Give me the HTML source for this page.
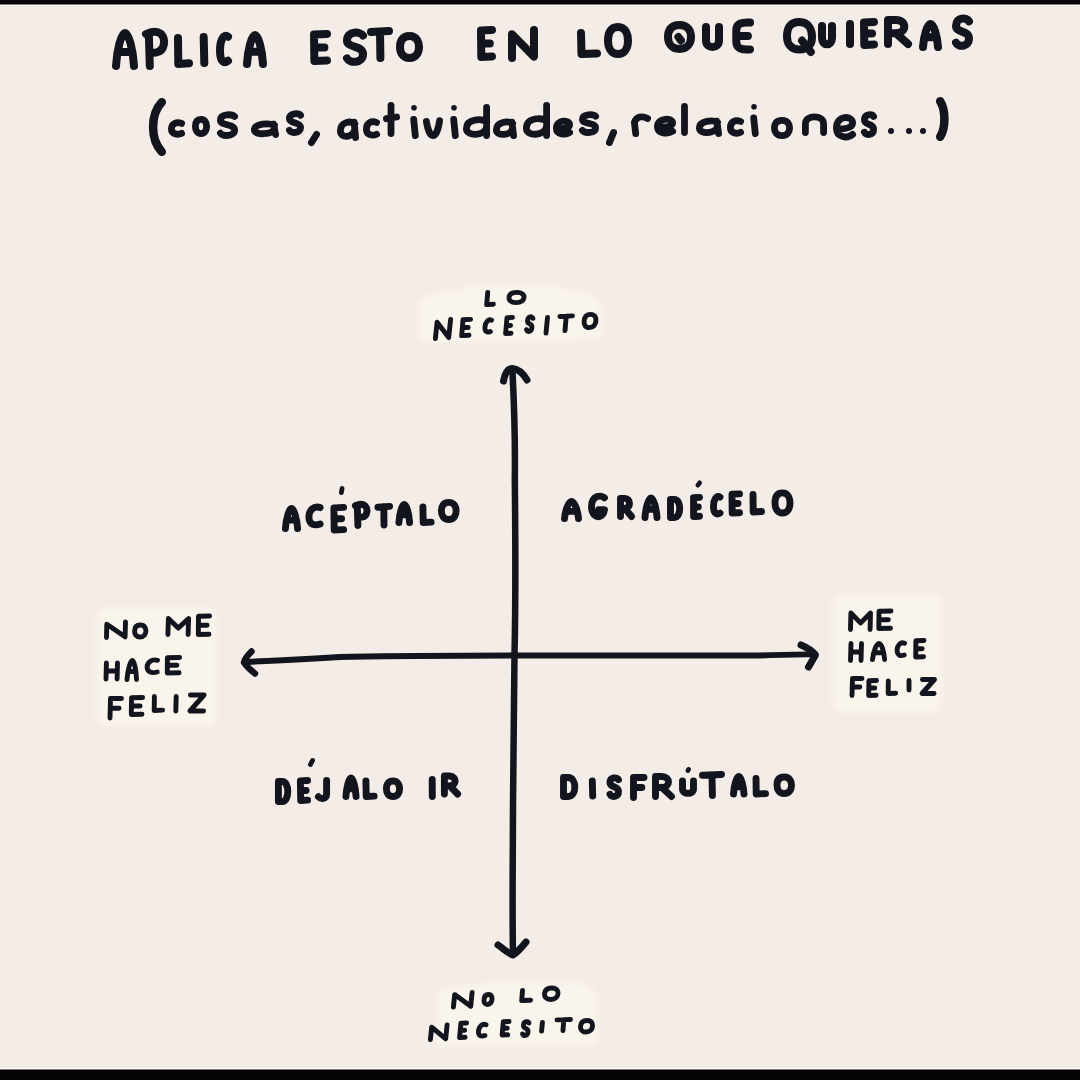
<!DOCTYPE html>
<html><head><meta charset="utf-8"><style>
html,body{margin:0;padding:0;background:#f4ece7;}
body{width:1080px;height:1080px;overflow:hidden;position:relative;font-family:"Liberation Sans",sans-serif;}
svg{position:absolute;left:0;top:0;}
</style></head><body>
<svg width="1080" height="1080" viewBox="0 0 1080 1080">
<rect x="0" y="0" width="1080" height="1080" fill="#f4ece7"/>

<filter id="blur" filterUnits="userSpaceOnUse" x="0" y="0" width="1080" height="1080"><feGaussianBlur stdDeviation="3.5"/></filter>
<g fill="#faf5ec" filter="url(#blur)" stroke="none">
<path d="M418,300 C440,290 480,284 520,285 C560,286 590,292 600,300 L602,338 C560,342 470,342 420,340 Z"/>
<rect x="97" y="608" width="119" height="118" rx="6"/>
<rect x="833" y="594" width="108" height="118" rx="6"/>
<path d="M437,990 C470,982 560,980 590,985 L598,1000 L598,1045 C560,1047 470,1047 437,1045 Z"/>
</g>

<g fill="none" stroke="#12151d" stroke-linecap="round" stroke-linejoin="round">

<path stroke-width="6.5" d="M512.5,372 C513.5,392 515.5,433 514.8,480 C515.5,540 515.7,600 514.5,655 C513.8,700 513,780 512.8,850 C512.5,900 512.5,930 513,953"/>
<path stroke-width="7" d="M503.5,381 C505,373 508,368.5 512.5,368.5 C518,369 523,373 527,380"/>
<path stroke-width="7" d="M498,945 C505,950 509,954 513,955 C518,952 522,947 526,942"/>
<path stroke-width="6" d="M245,662 C257,661 290,660.5 340,657 C420,655 600,655.5 760,655.5 C790,654.5 805,654 814,654.5"/>
<path stroke-width="6.5" d="M251.5,651.5 C248,655 244.5,659 244,662.5 C247,667 251,670.5 255,673.5"/>
<path stroke-width="7" d="M801,645 C807,647.5 812,650.5 815.5,655 L808.5,667"/>

<g stroke-width="8.0" >
<path d="M 116.0,66.0 C 116.9,49.5 121.4,33.0 125.0,33.0 C 128.6,33.0 133.1,49.5 134.0,66.0 M 117.8,52.1 L 132.2,52.1"/>
<path d="M 149.8,66.0 L 148.8,33.7 M 146.0,34.0 C 151.7,31.3 157.4,31.3 161.2,34.0 C 165.9,39.5 165.0,50.7 156.4,52.4 L 149.4,53.1"/>
<path d="M 178.0,38.0 L 178.3,64.0 L 189.0,63.2"/>
<path d="M 203.7,37.0 L 204.3,63.0"/>
<path d="M 228.0,36.7 C 223.6,33.3 220.0,40.6 220.0,50.4 C 220.0,61.6 224.0,63.8 228.0,60.8"/>
<path d="M 247.0,64.0 C 247.8,49.5 251.8,35.0 255.0,35.0 C 258.2,35.0 262.2,49.5 263.0,64.0 M 248.6,51.8 L 261.4,51.8"/>
<path d="M 327.0,34.0 L 314.0,34.5 L 314.4,61.0 L 327.0,60.5 M 314.3,47.5 L 324.4,47.5"/>
<path d="M 363.0,35.6 C 360.6,31.4 347.0,30.5 347.0,40.4 C 347.0,48.5 363.0,44.6 363.0,54.2 C 363.0,63.5 349.4,63.5 347.0,58.4"/>
<path d="M 371.0,32.1 L 389.0,31.0 M 380.0,31.5 L 380.4,58.0"/>
<path d="M 409.5,36.0 C 417.1,36.0 419.0,42.6 419.0,47.0 C 419.0,52.5 416.1,58.0 409.5,58.0 C 402.9,58.0 400.0,52.5 400.0,47.0 C 400.0,41.5 401.9,36.0 409.5,36.0 Z"/>
<path d="M 492.0,30.0 L 481.0,30.5 L 481.3,57.0 L 492.0,56.5 M 481.2,43.5 L 489.8,43.5"/>
<path d="M 512.0,58.0 L 512.0,34.2 L 534.0,56.6 L 534.0,30.0"/>
<path d="M 581.0,33.0 L 581.5,54.0 L 597.0,53.4"/>
<path d="M 618.0,27.0 C 626.0,27.0 628.0,35.1 628.0,40.5 C 628.0,47.2 625.0,54.0 618.0,54.0 C 611.0,54.0 608.0,47.2 608.0,40.5 C 608.0,33.8 610.0,27.0 618.0,27.0 Z"/>
<path d="M 679.5,25.0 C 688.7,25.0 691.0,32.2 691.0,37.0 C 691.0,43.0 687.5,49.0 679.5,49.0 C 671.5,49.0 668.0,43.0 668.0,37.0 C 668.0,31.0 670.3,25.0 679.5,25.0 Z M 678.4,37.0 L 680.9,40.4"/>
<path d="M 706.0,27.0 L 706.0,40.2 C 706.0,49.4 719.0,49.4 719.0,40.2 L 719.0,27.0"/>
<path d="M 750.0,22.6 C 741.6,22.0 736.3,23.4 736.3,30.4 L 736.3,41.6 C 736.3,48.6 741.6,50.0 750.0,49.4 M 736.7,36.0 L 747.9,36.0"/>
<path d="M 799.5,22.0 C 809.5,22.0 812.0,31.0 812.0,37.0 C 812.0,44.5 808.2,49.6 799.5,49.6 C 790.8,49.6 787.0,43.6 787.0,36.4 C 787.0,28.6 789.5,22.0 799.5,22.0 Z M 802.0,40.6 L 810.8,52.0"/>
<path d="M 822.0,26.0 L 822.0,38.0 C 822.0,46.4 832.0,46.4 832.0,38.0 L 832.0,26.0"/>
<path d="M 850.0,24.0 L 850.0,44.0"/>
<path d="M 874.0,22.0 L 864.0,22.5 L 864.3,45.0 L 874.0,44.5 M 864.2,33.5 L 872.0,33.5"/>
<path d="M 888.0,44.0 L 888.0,20.0 L 896.0,20.0 C 907.0,20.0 907.0,33.2 896.0,33.2 L 888.0,33.2 M 896.0,33.2 L 908.0,44.0"/>
<path d="M 923.0,47.0 C 923.8,35.5 927.5,24.0 930.5,24.0 C 933.5,24.0 937.2,35.5 938.0,47.0 M 924.5,37.3 L 936.5,37.3"/>
<path d="M 969.0,21.4 C 967.0,17.4 956.0,16.6 956.0,25.8 C 956.0,33.4 969.0,29.8 969.0,38.7 C 969.0,47.4 958.0,47.4 956.0,42.6"/>
</g>
<g stroke-width="6.8" >
<path stroke-width="8.5" d="M 161.8,102.2 C 150.2,114.6 150.2,139.4 161.8,151.8"/>
<path d="M 181.6,123.4 C 176.5,121.4 171.4,123.6 171.4,129.1 C 171.4,134.0 177.5,135.2 181.6,133.4"/>
<path d="M 201.0,119.4 C 205.5,119.4 206.6,123.7 206.6,126.5 C 206.6,130.1 204.9,133.6 201.0,133.6 C 197.1,133.6 195.4,130.1 195.4,126.5 C 195.4,123.0 196.5,119.4 201.0,119.4 Z"/>
<path d="M 234.6,116.5 C 232.5,114.0 220.4,113.3 220.4,120.3 C 220.4,126.1 234.6,123.3 234.6,130.1 C 234.6,136.7 222.5,136.7 220.4,133.1"/>
<path d="M 274.5,125.1 C 269.2,122.8 254.4,123.4 254.4,130.1 C 254.4,135.2 272.4,135.2 274.5,128.4 M 273.5,124.0 L 275.6,134.6"/>
<path d="M 300.6,115.3 C 298.9,113.0 289.4,112.4 289.4,118.8 C 289.4,124.0 300.6,121.5 300.6,127.6 C 300.6,133.6 291.1,133.6 289.4,130.3"/>
<path d="M 316.6,134.4 L 311.4,142.6"/>
<path d="M 354.8,123.8 C 351.0,120.6 340.4,121.4 340.4,131.1 C 340.4,138.4 353.3,138.4 354.8,128.7 M 354.1,122.2 L 355.6,137.6"/>
<path d="M 376.6,122.5 C 371.5,120.3 366.4,122.8 366.4,129.2 C 366.4,134.9 372.5,136.3 376.6,134.2"/>
<path d="M391.0,105.4 L391.0,133.6 M386.4,118.7 L396.6,117.0"/>
<path d="M413.7,119.3 L415.3,135.6"/><circle cx="414.0" cy="107.8" r="2.8" fill="#12151d" stroke="none"/>
<path d="M 426.4,121.4 C 427.7,129.9 430.4,135.6 433.0,135.6 C 435.6,135.6 438.3,129.9 439.6,120.7"/>
<path d="M453.7,119.3 L455.3,135.6"/><circle cx="454.0" cy="107.8" r="2.8" fill="#12151d" stroke="none"/>
<path d="M 486.6,122.1 C 482.6,118.7 466.4,117.8 466.4,128.8 C 466.4,136.4 484.6,136.4 486.6,127.1 M486.6,107.4 L486.6,135.6"/>
<path d="M 512.7,123.5 C 508.4,120.7 496.4,121.4 496.4,129.9 C 496.4,136.3 511.0,136.3 512.7,127.8 M 511.9,122.1 L 513.6,135.6"/>
<path d="M 546.6,121.1 C 542.6,117.5 526.4,116.6 526.4,128.4 C 526.4,136.5 544.6,136.5 546.6,126.5 M546.6,105.4 L546.6,135.6"/>
<path d="M 557.1,128.9 C 563.0,128.9 569.6,128.2 569.6,124.7 C 569.6,119.7 556.4,119.3 556.4,128.2 C 556.4,134.9 565.6,135.3 569.6,132.5"/>
<path d="M 595.6,116.2 C 593.6,114.0 582.4,113.5 582.4,119.5 C 582.4,124.4 595.6,122.0 595.6,127.9 C 595.6,133.5 584.4,133.5 582.4,130.4"/>
<path d="M 613.6,132.4 L 609.4,142.6"/>
<path d="M 635.7,133.6 L 634.4,122.4 C 636.4,116.4 642.3,115.5 647.6,118.5"/>
<path d="M 658.2,127.5 C 665.0,127.5 672.6,126.8 672.6,123.0 C 672.6,117.6 657.4,117.2 657.4,126.8 C 657.4,133.9 668.0,134.4 672.6,131.3"/>
<path d="M684.5,106.4 L684.5,132.6"/>
<path d="M 717.6,122.4 C 712.8,119.7 699.4,120.4 699.4,128.3 C 699.4,134.3 715.7,134.3 717.6,126.3 M 716.7,121.1 L 718.6,133.6"/>
<path d="M 740.6,121.5 C 735.5,119.3 730.4,121.7 730.4,127.7 C 730.4,132.9 736.5,134.3 740.6,132.3"/>
<path d="M753.7,117.9 L755.3,133.6"/><circle cx="754.0" cy="106.8" r="2.8" fill="#12151d" stroke="none"/>
<path d="M 782.0,120.4 C 788.1,120.4 789.6,125.0 789.6,128.0 C 789.6,131.8 787.3,135.6 782.0,135.6 C 776.7,135.6 774.4,131.8 774.4,128.0 C 774.4,124.2 775.9,120.4 782.0,120.4 Z"/>
<path d="M 805.4,132.6 L 805.4,123.7 C 805.4,114.5 823.6,114.5 823.6,123.7 L 823.6,132.6"/>
<path d="M 837.2,129.1 C 844.5,129.1 852.6,128.1 852.6,122.8 C 852.6,115.3 836.4,114.7 836.4,128.1 C 836.4,138.0 847.7,138.7 852.6,134.4"/>
<path d="M 873.6,116.4 C 872.2,114.0 864.4,113.4 864.4,120.1 C 864.4,125.5 873.6,122.9 873.6,129.3 C 873.6,135.6 865.8,135.6 864.4,132.2"/>
<circle cx="891.0" cy="131.0" r="3.0" fill="#12151d" stroke="none"/>
<circle cx="909.0" cy="131.0" r="3.0" fill="#12151d" stroke="none"/>
<circle cx="923.0" cy="131.0" r="3.0" fill="#12151d" stroke="none"/>
<path stroke-width="8.5" d="M 940.2,101.2 C 945.8,110.1 945.8,127.9 940.2,136.8"/>
</g>
<g stroke-width="4.9" >
<path d="M 487.7,292.4 L 486.7,304.6 L 493.4,304.2"/>
<path d="M 517.0,292.4 C 523.0,292.4 524.2,295.5 524.0,297.5 C 523.8,300.0 521.3,302.6 516.0,302.6 C 510.7,302.6 508.7,300.0 509.0,297.5 C 509.2,295.0 511.0,292.4 517.0,292.4 Z"/>
<path d="M 435.4,338.6 L 437.1,322.3 L 448.7,337.6 L 450.6,319.4"/>
<path d="M 470.6,319.4 L 463.0,319.8 L 461.7,335.6 L 469.0,335.2 M 462.4,327.5 L 468.2,327.5"/>
<path d="M 491.5,320.2 C 488.4,318.7 485.5,322.1 485.0,326.7 C 484.5,331.9 487.3,332.9 490.3,331.5"/>
<path d="M 512.5,317.4 L 507.0,317.8 L 505.6,333.6 L 511.0,333.2 M 506.4,325.5 L 510.6,325.5"/>
<path d="M 532.9,318.3 C 532.3,316.1 528.0,315.7 527.5,320.7 C 527.1,324.8 532.4,322.8 531.9,327.6 C 531.5,332.3 527.1,332.3 526.6,329.7"/>
<path d="M 547.5,317.4 L 546.0,333.1"/>
<path d="M 559.9,316.5 L 572.5,315.9 M 566.2,316.2 L 565.0,330.6"/>
<path d="M 590.7,314.4 C 595.4,314.4 596.2,318.4 595.9,321.0 C 595.6,324.3 593.5,327.6 589.3,327.6 C 585.2,327.6 583.8,324.3 584.1,321.0 C 584.4,317.7 585.9,314.4 590.7,314.4 Z"/>
</g>
<g stroke-width="4.9" >
<path d="M 106.5,637.5 L 106.8,624.3 L 125.1,636.8 L 125.5,622.0"/>
<path d="M 140.4,625.0 C 144.9,625.0 145.9,628.6 145.9,631.0 C 145.8,634.0 144.0,637.0 140.1,637.0 C 136.1,637.0 134.5,634.0 134.6,631.0 C 134.7,628.0 135.9,625.0 140.4,625.0 Z"/>
<path d="M 167.9,634.5 L 168.4,618.5 L 178.2,628.1 L 188.6,618.5 L 188.1,634.5"/>
<path d="M 209.6,616.0 L 198.5,616.3 L 198.3,634.5 L 209.0,634.2 M 198.4,625.2 L 207.1,625.2"/>
<path d="M 106.4,663.0 L 106.0,679.0 M 117.5,663.0 L 117.1,679.0 M 106.2,671.0 L 117.3,671.0"/>
<path d="M 127.0,679.5 C 127.7,670.0 130.4,660.5 132.3,660.5 C 134.2,660.5 136.3,670.0 136.5,679.5 M 128.1,671.5 L 135.8,671.5"/>
<path d="M 157.5,660.3 C 152.0,658.6 147.3,662.2 147.1,666.9 C 147.0,672.4 152.0,673.5 157.2,672.0"/>
<path d="M 179.6,657.5 L 167.4,657.8 L 167.3,673.0 L 179.1,672.7 M 167.4,665.2 L 176.9,665.2"/>
<path d="M 121.5,698.5 L 110.5,698.5 L 110.0,718.0 M 110.2,708.2 L 119.1,708.2"/>
<path d="M 142.6,697.5 L 131.5,697.8 L 131.3,714.5 L 142.0,714.2 M 131.4,706.0 L 140.1,706.0"/>
<path d="M 154.4,696.5 L 154.2,710.5 L 162.6,710.1"/>
<path d="M 176.2,696.5 L 175.8,711.0"/>
<path d="M 190.4,695.0 L 204.1,695.0 L 189.9,711.0 L 203.6,711.0"/>
</g>
<g stroke-width="4.9" >
<path d="M 850.5,629.5 L 850.9,613.0 L 860.5,622.9 L 870.5,613.0 L 870.1,629.5"/>
<path d="M 891.0,611.0 L 879.0,611.3 L 878.8,628.5 L 890.5,628.2 M 879.0,619.8 L 888.4,619.8"/>
<path d="M 851.0,643.5 L 850.5,660.5 M 861.5,643.5 L 861.0,660.5 M 850.7,652.0 L 861.3,652.0"/>
<path d="M 872.5,659.5 C 873.3,651.5 876.6,643.5 879.0,643.5 C 881.4,643.5 884.2,651.5 884.6,659.5 M 873.9,652.8 L 883.6,652.8"/>
<path d="M 904.5,643.3 C 900.6,641.6 897.3,645.2 897.1,649.9 C 897.0,655.4 900.5,656.5 904.2,655.0"/>
<path d="M 924.0,640.5 L 915.9,640.8 L 915.7,657.0 L 923.6,656.7 M 915.9,648.8 L 922.2,648.8"/>
<path d="M 862.0,678.5 L 852.5,678.5 L 852.0,695.5 M 852.2,687.0 L 859.9,687.0"/>
<path d="M 876.5,680.5 L 868.9,680.8 L 868.7,695.5 L 876.1,695.2 M 868.8,688.0 L 874.8,688.0"/>
<path d="M 888.3,681.0 L 888.2,693.5 L 895.7,693.2"/>
<path d="M 909.0,680.5 L 909.0,690.0"/>
<path d="M 922.4,679.5 L 934.5,679.5 L 922.0,693.5 L 934.1,693.5"/>
</g>
<g stroke-width="4.9" >
<path d="M 453.4,1007.0 L 454.7,994.6 L 470.7,1006.3 L 472.1,992.5"/>
<path d="M 488.5,994.5 C 491.7,994.5 492.2,997.5 492.0,999.5 C 491.8,1002.0 490.3,1004.5 487.5,1004.5 C 484.7,1004.5 483.7,1002.0 484.0,999.5 C 484.2,997.0 485.3,994.5 488.5,994.5 Z"/>
<path d="M 522.5,990.5 L 521.7,1000.5 L 530.6,1000.2"/>
<path d="M 551.8,988.0 C 557.2,988.0 558.2,991.4 558.0,993.8 C 557.7,996.6 555.4,999.5 550.7,999.5 C 546.0,999.5 544.2,996.6 544.5,993.8 C 544.8,990.9 546.5,988.0 551.8,988.0 Z"/>
<path d="M 430.4,1039.5 L 431.7,1027.1 L 445.7,1038.8 L 447.1,1025.0"/>
<path d="M 466.6,1023.0 L 460.9,1023.2 L 459.6,1037.5 L 465.1,1037.3 M 460.3,1030.2 L 464.7,1030.2"/>
<path d="M 486.0,1024.7 C 482.4,1023.2 479.0,1026.5 478.5,1030.9 C 478.0,1035.9 481.3,1036.9 484.9,1035.5"/>
<path d="M 509.1,1021.5 L 503.3,1021.7 L 502.1,1035.0 L 507.7,1034.8 M 502.7,1028.2 L 507.2,1028.2"/>
<path d="M 528.9,1023.1 C 528.3,1021.2 523.9,1020.7 523.5,1025.4 C 523.1,1029.2 528.5,1027.4 528.0,1031.9 C 527.6,1036.3 523.2,1036.3 522.6,1033.9"/>
<path d="M 542.4,1022.5 L 541.6,1031.0"/>
<path d="M 557.0,1019.9 L 570.5,1019.5 M 563.8,1019.7 L 563.0,1030.5"/>
<path d="M 587.1,1020.5 C 591.9,1020.5 592.7,1023.9 592.5,1026.2 C 592.2,1029.2 590.1,1032.0 585.9,1032.0 C 581.7,1032.0 580.2,1029.2 580.5,1026.2 C 580.8,1023.4 582.3,1020.5 587.1,1020.5 Z"/>
</g>
<g stroke-width="6.9" >
<path d="M 285.4,528.5 C 286.1,518.5 289.1,508.4 291.5,508.4 C 293.9,508.4 296.9,518.5 297.6,528.5 M 286.7,520.1 L 296.3,520.1"/>
<path d="M 320.1,507.6 C 313.9,505.3 308.9,510.3 308.9,517.0 C 308.9,524.6 314.5,526.1 320.1,524.0"/>
<path d="M 343.6,507.4 L 333.9,507.9 L 334.2,530.0 L 343.6,529.6 M 334.1,518.8 L 341.6,518.8"/>
<path stroke-width="4.8" d="M342.1,488.4 L341.4,492.6"/>
<path d="M 357.9,525.5 L 357.3,505.5 M 355.4,505.7 C 359.1,504.0 362.7,504.0 365.1,505.7 C 368.2,509.1 367.6,516.1 362.1,517.1 L 357.6,517.5"/>
<path d="M 377.9,507.2 L 389.6,506.4 M 383.8,506.8 L 384.0,525.0"/>
<path d="M 398.9,522.5 C 399.5,513.5 402.1,504.4 404.2,504.4 C 406.4,504.4 409.0,513.5 409.6,522.5 M 400.0,514.9 L 408.5,514.9"/>
<path d="M 422.9,506.9 L 423.2,522.5 L 431.1,522.1"/>
<path d="M 448.8,502.4 C 454.6,502.4 456.1,507.6 456.1,511.0 C 456.1,515.3 453.9,519.5 448.8,519.5 C 443.6,519.5 441.4,515.3 441.4,511.0 C 441.4,506.7 442.9,502.4 448.8,502.4 Z"/>
</g>
<g stroke-width="6.9" >
<path d="M 564.5,518.5 C 565.2,510.0 568.7,501.4 571.5,501.4 C 574.3,501.4 577.8,510.0 578.5,518.5 M 565.9,511.4 L 577.1,511.4"/>
<path d="M 604.5,497.8 C 601.9,495.0 591.5,494.3 591.5,507.0 C 591.5,519.0 603.2,519.7 604.5,509.8 L 598.7,509.8"/>
<path d="M 620.5,516.5 L 620.5,498.4 L 624.9,498.4 C 631.0,498.4 631.0,508.4 624.9,508.4 L 620.5,508.4 M 624.9,508.4 L 631.5,516.5"/>
<path d="M 645.0,517.5 C 645.6,507.8 648.6,497.9 651.0,497.9 C 653.4,497.9 656.4,507.8 657.0,517.5 M 646.2,509.3 L 655.8,509.3"/>
<path d="M 670.5,499.4 L 670.5,517.5 L 674.3,517.5 C 681.5,517.5 681.5,499.4 674.3,499.4 Z"/>
<path d="M 699.5,497.4 L 693.5,497.8 L 693.6,516.5 L 699.5,516.2 M 693.6,507.0 L 698.3,507.0"/>
<path stroke-width="4.8" d="M699.6,482.9 L697.9,485.1"/>
<path d="M 720.0,497.1 C 716.4,494.8 713.5,499.7 713.5,506.2 C 713.5,513.6 716.8,515.1 720.0,513.1"/>
<path d="M 739.5,493.9 L 732.0,494.3 L 732.2,513.0 L 739.5,512.7 M 732.1,503.5 L 738.0,503.5"/>
<path d="M 753.0,494.4 L 753.2,512.0 L 761.5,511.5"/>
<path d="M 782.5,492.9 C 788.5,492.9 790.0,499.0 790.0,503.0 C 790.0,508.0 787.8,513.0 782.5,513.0 C 777.2,513.0 775.0,508.0 775.0,503.0 C 775.0,498.0 776.5,492.9 782.5,492.9 Z"/>
</g>
<g stroke-width="6.9" >
<path d="M 278.4,781.5 L 278.4,801.5 L 282.3,801.5 C 289.6,801.5 289.6,781.5 282.3,781.5 Z"/>
<path d="M 307.6,780.5 L 300.4,780.9 L 300.7,800.5 L 307.6,800.1 M 300.6,790.5 L 306.1,790.5"/>
<path stroke-width="4.8" d="M312.6,760.4 L310.4,764.6"/>
<path d="M 326.6,780.5 L 326.6,793.8 C 326.6,799.5 320.9,799.5 318.4,796.7"/>
<path d="M 345.9,796.5 C 346.5,787.2 349.0,778.0 351.0,778.0 C 353.0,778.0 355.5,787.2 356.1,796.5 M 347.0,788.7 L 355.0,788.7"/>
<path d="M 365.9,781.0 L 366.2,796.5 L 374.1,796.1"/>
<path d="M 393.0,781.0 C 398.2,781.0 399.6,785.6 399.6,788.8 C 399.6,792.6 397.6,796.5 393.0,796.5 C 388.4,796.5 386.4,792.6 386.4,788.8 C 386.4,784.9 387.8,781.0 393.0,781.0 Z"/>
<path d="M 432.2,779.5 L 432.3,796.5"/>
<path d="M 444.4,794.0 L 444.4,776.0 L 449.7,776.0 C 456.9,776.0 456.9,785.9 449.7,785.9 L 444.4,785.9 M 449.7,785.9 L 457.6,794.0"/>
</g>
<g stroke-width="6.9" >
<path d="M 563.5,777.5 L 563.5,796.5 L 568.2,796.5 C 577.0,796.5 577.0,777.5 568.2,777.5 Z"/>
<path d="M 592.3,781.0 L 592.7,796.0"/>
<path d="M 618.5,779.7 C 617.3,777.1 610.0,776.5 610.0,782.8 C 610.0,788.0 618.5,785.5 618.5,791.6 C 618.5,797.5 611.2,797.5 610.0,794.3"/>
<path d="M 644.0,777.5 L 633.5,777.5 L 633.5,797.5 M 633.5,787.5 L 641.9,787.5"/>
<path d="M 655.5,796.5 L 655.5,776.5 L 661.9,776.5 C 670.7,776.5 670.7,787.5 661.9,787.5 L 655.5,787.5 M 661.9,787.5 L 671.5,796.5"/>
<path d="M 682.5,781.0 L 682.5,789.1 C 682.5,794.8 693.5,794.8 693.5,789.1 L 693.5,781.0"/>
<path stroke-width="4.8" d="M688.6,769.4 L687.9,770.6"/>
<path d="M 702.5,775.3 L 721.5,774.5 M 712.0,774.9 L 712.4,795.5"/>
<path d="M 733.5,794.0 C 734.0,785.2 736.6,776.5 738.8,776.5 C 740.9,776.5 743.5,785.2 744.0,794.0 M 734.5,786.7 L 743.0,786.7"/>
<path d="M 756.0,778.5 L 756.2,794.0 L 765.5,793.6"/>
<path d="M 784.2,777.0 C 790.1,777.0 791.5,781.9 791.5,785.2 C 791.5,789.4 789.4,793.5 784.2,793.5 C 779.1,793.5 777.0,789.4 777.0,785.2 C 777.0,781.1 778.4,777.0 784.2,777.0 Z"/>
</g>
</g>
<rect x="0" y="0" width="1080" height="4" fill="#050305"/>
<rect x="0" y="4" width="1080" height="1" fill="#7a7878"/>
<rect x="0" y="5" width="1080" height="1" fill="#fdfdf8"/>
<rect x="0" y="6" width="1080" height="1" fill="#e6e2df"/>
<rect x="0" y="1066" width="1080" height="2" fill="#f2efea"/>
<rect x="0" y="1068" width="1080" height="1" fill="#fdfdf8"/>
<rect x="0" y="1069" width="1080" height="1" fill="#7a7878"/>
<rect x="0" y="1070" width="1080" height="10" fill="#050305"/>
</svg>
</body></html>
